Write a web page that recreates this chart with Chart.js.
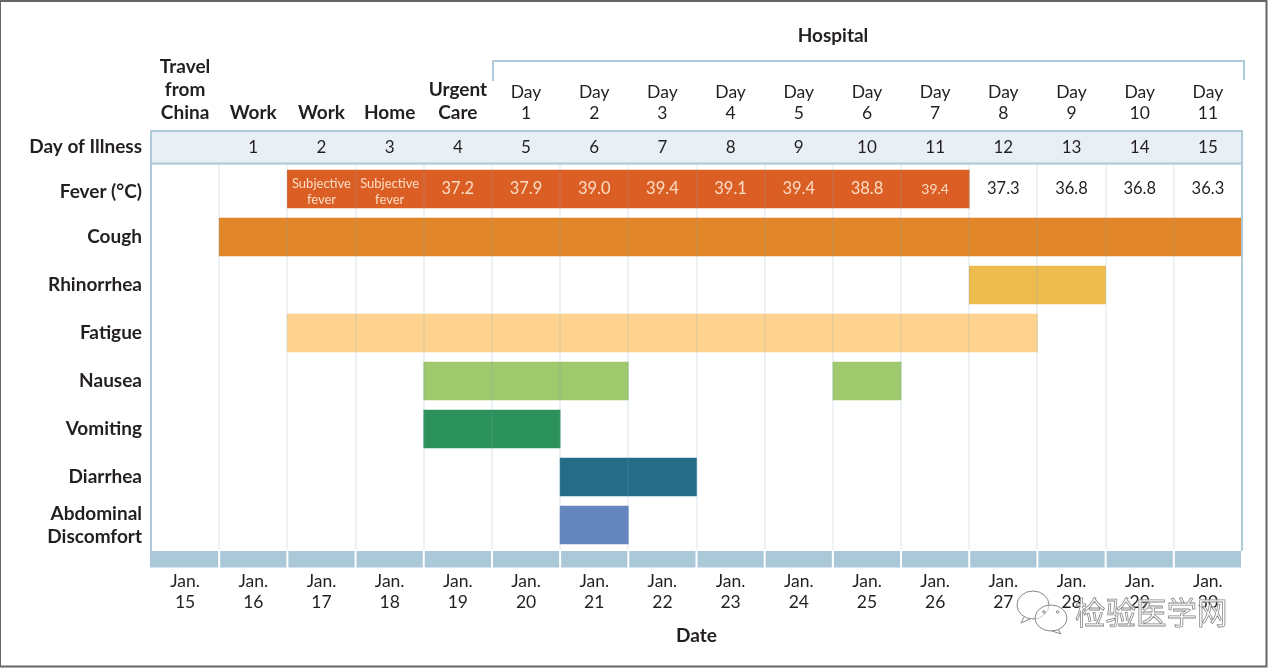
<!DOCTYPE html>
<html>
<head>
<meta charset="utf-8">
<title>Symptoms by day of illness</title>
<script src="https://cdn.jsdelivr.net/npm/chart.js@4"></script>
<style>
    html, body { margin: 0; padding: 0; background: #fff; }
    canvas { display: block; }
</style>
</head>
<body>
<canvas id="timeline" width="1269" height="668"></canvas>
<script>
const symptoms = ["Fever (°C)", "Cough", "Rhinorrhea", "Fatigue", "Nausea", "Vomiting", "Diarrhea", ["Abdominal", "Discomfort"]];
// [first column, last column] on the day axis, 0 = Jan. 15
const firstEpisode = [[2, 12], [1, 16], [12, 14], [2, 13], [4, 7], [4, 6], [6, 8], [6, 7]];
const secondEpisode = [null, null, null, null, [10, 11], null, null, null];
const symptomColors = ["#DB5F25", "#E08528", "#EEBC4E", "#FED38F", "#A0C96E", "#2A925A", "#246C87", "#6485BD"];

const dates = ["15", "16", "17", "18", "19", "20", "21", "22", "23", "24", "25", "26", "27", "28", "29", "30"];
const places = [["Travel", "from", "China"], "Work", "Work", "Home", ["Urgent", "Care"],
    ["Day", "1"], ["Day", "2"], ["Day", "3"], ["Day", "4"], ["Day", "5"], ["Day", "6"],
    ["Day", "7"], ["Day", "8"], ["Day", "9"], ["Day", "10"], ["Day", "11"]];
const illnessDays = ["", "1", "2", "3", "4", "5", "6", "7", "8", "9", "10", "11", "12", "13", "14", "15"];
const feverReadings = ["", "", "Subjective|fever", "Subjective|fever", "37.2", "37.9", "39.0", "39.4", "39.1", "39.4", "38.8", "39.4", "37.3", "36.8", "36.8", "36.3"];
const lastFeverColumn = 11;
const hospitalStart = 5;

const FONT = "Lato, 'Open Sans', sans-serif";
const INK = "#231f20";
const RULE = "#afc9d9";
const COLUMN = 68.19;

// Everything the axes cannot draw by themselves: band, bracket, fever readings, watermark
const decorations = {
    id: "decorations",
    beforeDatasetsDraw(chart) {
        const ctx = chart.ctx;
        const x = chart.scales.x;
        ctx.save();
        ctx.fillStyle = "#abc8d9";
        for (let i = 0; i < dates.length; i++) {
            const left = x.getPixelForValue(i);
            ctx.fillRect(left + (i ? 1 : -1), 551, x.getPixelForValue(i + 1) - left - (i ? 2 : 0), 16.5);
        }
        ctx.restore();
    },
    afterDraw(chart) {
        const ctx = chart.ctx;
        const x = chart.scales.x;
        const y = chart.scales.y;
        const left = x.getPixelForValue(0);
        const right = x.getPixelForValue(16);

        ctx.save();
        // table frame
        ctx.strokeStyle = RULE;
        ctx.lineWidth = 2;
        ctx.beginPath();
        ctx.moveTo(left, 551); ctx.lineTo(left, 131); ctx.lineTo(right, 131); ctx.lineTo(right, 551);
        ctx.moveTo(left, 163.5); ctx.lineTo(right, 163.5);
        ctx.stroke();

        // hospital bracket
        const hospitalLeft = x.getPixelForValue(hospitalStart);
        ctx.beginPath();
        ctx.moveTo(hospitalLeft + 1, 81); ctx.lineTo(hospitalLeft + 1, 61); ctx.lineTo(right + 2, 61); ctx.lineTo(right + 2, 80);
        ctx.stroke();

        ctx.textBaseline = "middle";
        ctx.fillStyle = INK;
        ctx.textAlign = "center";
        ctx.font = "bold 19px " + FONT;
        ctx.fillText("Hospital", 833, 35.5);
        ctx.textAlign = "right";
        ctx.fillText("Day of Illness", 142, 147);
        ctx.fillText(symptoms[0], 142, 192);

        // fever readings sit in the first row
        ctx.textAlign = "center";
        const feverY = y.getPixelForValue(0);
        feverReadings.forEach((reading, i) => {
            if (!reading) return;
            const cx = x.getPixelForValue(i + 0.5);
            ctx.fillStyle = i <= lastFeverColumn ? "#fbdcc4" : INK;
            if (reading.includes("|")) {
                const lines = reading.split("|");
                ctx.font = "13px " + FONT;
                ctx.fillText(lines[0], cx, feverY - 5);
                ctx.fillText(lines[1], cx, feverY + 11);
            } else {
                ctx.font = (i === lastFeverColumn ? "14px " : "16.5px ") + FONT;
                ctx.fillText(reading, cx, feverY);
            }
        });

        // watermark
        ctx.strokeStyle = "#888";
        ctx.fillStyle = "rgba(255,255,255,0.6)";
        ctx.lineWidth = 1;
        ctx.beginPath();
        ctx.ellipse(1033, 605, 16, 14, 0, 0, Math.PI * 2);
        ctx.moveTo(1024, 617); ctx.lineTo(1021, 623); ctx.lineTo(1030, 619);
        ctx.fill();
        ctx.stroke();
        ctx.beginPath();
        ctx.ellipse(1051, 618, 16, 13, 0, 0, Math.PI * 2);
        ctx.moveTo(1058, 629); ctx.lineTo(1061, 634); ctx.lineTo(1052, 631);
        ctx.fill();
        ctx.stroke();
        ctx.beginPath();
        ctx.arc(1044, 612, 1.3, 0, Math.PI * 2);
        ctx.moveTo(1059, 612);
        ctx.arc(1057.7, 612, 1.3, 0, Math.PI * 2);
        ctx.stroke();
        ctx.font = "30.5px 'Noto Sans CJK SC'";
        ctx.textAlign = "left";
        ctx.fillStyle = "rgba(255,255,255,0.85)";
        ctx.lineWidth = 0.8;
        ctx.fillText("检验医学网", 1075, 612);
        ctx.strokeText("检验医学网", 1075, 612);

        // picture frame
        ctx.strokeStyle = "#666";
        ctx.lineWidth = 2;
        ctx.strokeRect(0, 1, 1266.5, 665.5);
        ctx.restore();
    }
};

new Chart(document.getElementById("timeline"), {
    type: "bar",
    plugins: [decorations],
    data: {
        labels: symptoms,
        datasets: [
            { label: "Symptom", data: firstEpisode, backgroundColor: symptomColors, barThickness: 38, grouped: false },
            { label: "Second episode", data: secondEpisode, backgroundColor: symptomColors, barThickness: 38, grouped: false }
        ]
    },
    options: {
        indexAxis: "y",
        responsive: false,
        animation: false,
        devicePixelRatio: 1,
        layout: { padding: { top: 0, left: 0, right: 27, bottom: 21 } },
        plugins: { legend: { display: false }, tooltip: { enabled: false } },
        scales: {
            y: {
                grid: { display: false, drawTicks: false },
                border: { display: false },
                ticks: {
                    autoSkip: false, color: INK, padding: 9,
                    font: { family: FONT, size: 19, weight: "bold", lineHeight: 1.21 },
                    // the fever label sits a little low in the reference, drawn with the decorations
                    callback: (v) => v === 0 ? "" : symptoms[v]
                },
                afterFit(scale) { scale.width = 151; }
            },
            x: {
                type: "linear", position: "bottom", min: 0, max: 16,
                grid: { color: "rgba(120,160,190,0.14)", lineWidth: 2, z: 1, drawTicks: false },
                border: { display: false },
                title: { display: true, text: "Date", color: INK, padding: 0, font: { family: FONT, size: 19, weight: "bold" } },
                ticks: {
                    stepSize: 1, autoSkip: false, maxRotation: 0, minRotation: 0, padding: 22, labelOffset: COLUMN / 2,
                    color: INK, font: { family: FONT, size: 17.5, lineHeight: 1.2 },
                    callback: (v) => v < dates.length ? ["Jan.", dates[v]] : ""
                },
                afterFit(scale) { scale.height = 98; }
            },
            xIllness: {
                axis: "x", type: "linear", position: "top", min: 0, max: 16, weight: 0,
                backgroundColor: "#e9f0f5",
                grid: { display: false, drawTicks: false },
                border: { display: false },
                ticks: {
                    stepSize: 1, autoSkip: false, maxRotation: 0, minRotation: 0, padding: 7, labelOffset: COLUMN / 2,
                    color: INK, font: { family: FONT, size: 17 },
                    callback: (v) => illnessDays[v] || ""
                },
                afterFit(scale) { scale.height = 34; }
            },
            xPlace: {
                axis: "x", type: "linear", position: "top", min: 0, max: 16, weight: 1,
                grid: { display: false, drawTicks: false },
                border: { display: false },
                ticks: {
                    stepSize: 1, autoSkip: false, maxRotation: 0, minRotation: 0, padding: 7, labelOffset: COLUMN / 2,
                    color: INK,
                    font: (ctx) => ctx.index >= hospitalStart
                        ? { family: FONT, size: 17.5, lineHeight: 1.2 }
                        : { family: FONT, size: 19, weight: "bold", lineHeight: 1.21 },
                    callback: (v) => places[v] || ""
                },
                afterFit(scale) { scale.height = 131; }
            }
        }
    }
});
</script>
</body>
</html>
